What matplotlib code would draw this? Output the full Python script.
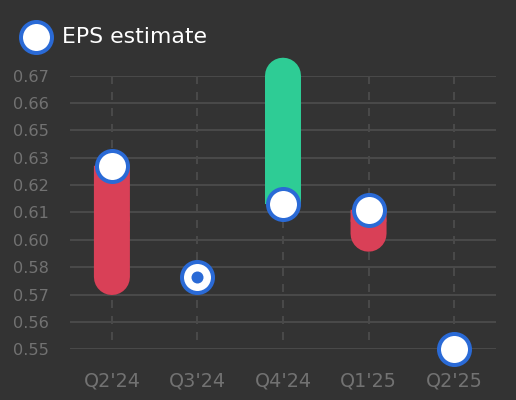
import matplotlib
matplotlib.use("Agg")
import matplotlib.pyplot as plt
from matplotlib.lines import Line2D
import numpy as np

quarters = ["Q2'24", "Q3'24", "Q4'24", "Q1'25", "Q2'25"]
estimate = [0.6305, 0.5815, 0.6137, 0.6112, 0.55]
actual = [0.5817, 0.5815, 0.67, 0.6007, None]
ytick_labels = ["0.55", "0.56", "0.57", "0.58", "0.60", "0.61",
                "0.62", "0.63", "0.65", "0.66", "0.67"]
y_min, y_max = 0.55, 0.67

BG = "#333333"
GRID = "#494949"
TXT = "#727272"
RED = "#d94057"
GREEN = "#2ecc95"
BLUE = "#2a6ad6"

px = 0.72  # points per pixel at dpi 100

fig = plt.figure(figsize=(5.16, 4.0), dpi=100, facecolor=BG)
ax = fig.add_axes([70/516, 1-349.3/400, (496-70)/516, (349.3-75.7)/400])
ax.set_facecolor(BG)

x = np.arange(len(quarters))
ax.set_xlim(-0.49, len(quarters) - 0.51)
ax.set_ylim(y_min, y_max)

yt = np.linspace(y_min, y_max, len(ytick_labels))
ax.set_yticks(yt)
ax.set_yticklabels(ytick_labels)
ax.set_xticks(x)
ax.set_xticklabels(quarters)

for s in ax.spines.values():
    s.set_visible(False)
ax.tick_params(axis="both", length=0)
ax.tick_params(axis="y", colors=TXT, labelsize=11.6, pad=15)
ax.tick_params(axis="x", colors=TXT, labelsize=13.8, pad=16)

for v in yt:
    ax.axhline(v, color=GRID, lw=2*px, zorder=1)
for xi in x:
    ax.plot([xi, xi], [y_max, y_min], color=GRID, lw=2*px,
            linestyle=(0, (4, 4)), zorder=1)

for xi, e, a in zip(x, estimate, actual):
    if a is not None and abs(a - e) > 1e-9:
        col = GREEN if a > e else RED
        mid = (a + e) / 2
        ax.plot([xi, xi], [a, mid], color=col, lw=36*px,
                solid_capstyle="round", zorder=3, clip_on=False, snap=False)
        ax.plot([xi, xi], [mid, e], color=col, lw=36*px,
                solid_capstyle="butt", zorder=3, clip_on=False, snap=False)
    ax.plot([xi], [e], marker="o", ms=31*px, mfc="white", mec=BLUE,
            mew=4*px, zorder=5, clip_on=False)
    if a is not None and abs(a - e) <= 1e-9:
        ax.plot([xi], [a], marker="o", ms=12*px, mfc=BLUE, mec=BLUE,
                mew=0, zorder=6, clip_on=False)

fig.add_artist(Line2D([36/516], [1-37.3/400], transform=fig.transFigure,
                      marker="o", ms=31*px, mfc="white", mec=BLUE, mew=4*px,
                      linestyle="none"))
fig.text(62/516, 1-37.3/400, "EPS estimate", color="white", fontsize=15.8,
         va="center", ha="left")

fig.savefig("out.png", dpi=100, facecolor=BG)
